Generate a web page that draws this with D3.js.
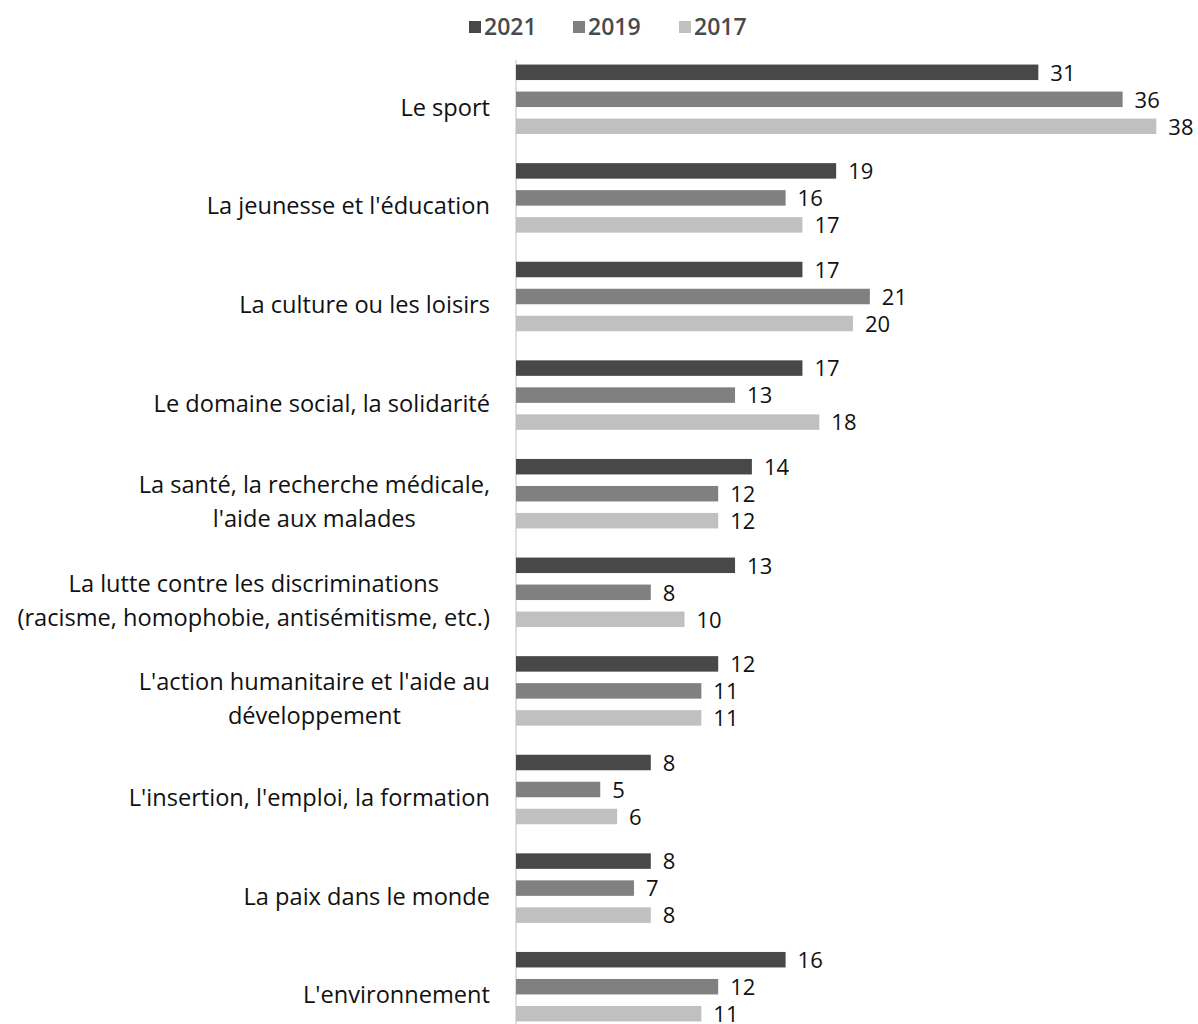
<!DOCTYPE html>
<html>
<head>
<meta charset="utf-8">
<script src="https://cdn.jsdelivr.net/npm/d3@7"></script>
<style>
  body { margin: 0; background: #fff; }
  text { font-family: "Open Sans", sans-serif; }
</style>
</head>
<body>
<script>
// data
let categories = [
    ["Le sport"],
    ["La jeunesse et l'éducation"],
    ["La culture ou les loisirs"],
    ["Le domaine social, la solidarité"],
    ["La santé, la recherche médicale,", "l'aide aux malades"],
    ["La lutte contre les discriminations", "(racisme, homophobie, antisémitisme, etc.)"],
    ["L'action humanitaire et l'aide au", "développement"],
    ["L'insertion, l'emploi, la formation"],
    ["La paix dans le monde"],
    ["L'environnement"]
]
let years = ["2021", "2019", "2017"]
let values2021 = [31, 19, 17, 17, 14, 13, 12, 8, 8, 16]
let values2019 = [36, 16, 21, 13, 12, 8, 11, 5, 7, 12]
let values2017 = [38, 17, 20, 18, 12, 10, 11, 6, 8, 11]
let colors = ["#484848", "#808080", "#c0c0c0"]

let series = [values2021, values2019, values2017]

let svgWidth = 1198
let svgHeight = 1024

let svg = d3.select("body")
    .append("svg")
    .attr("width", svgWidth)
    .attr("height", svgHeight)

let catIdx = categories.map((c, i) => i)

let y = d3.scaleBand()
    .domain(catIdx)
    .range([50, 1036])

let x = d3.scaleLinear()
    .domain([0, 40])
    .range([516, 1190])

// bars inside one group: step ~27px, bar ~15.5px
let yInner = d3.scaleBand()
    .domain(years)
    .range([y.bandwidth() / 2 - 34.75, y.bandwidth() / 2 + 34.75])
    .paddingInner(0.426)

// axis line
svg.append("line")
    .attr("x1", x(0)).attr("x2", x(0))
    .attr("y1", 60).attr("y2", 1024)
    .attr("stroke", "#d4d4d4")
    .attr("stroke-width", 1.5)

let groups = svg.append("g")
    .selectAll("g")
    .data(catIdx)
    .enter()
    .append("g")
    .attr("transform", i => `translate(0,${y(i)})`)

years.forEach((yr, s) => {
    groups.append("rect")
        .attr("x", x(0))
        .attr("y", yInner(yr))
        .attr("width", i => x(series[s][i]) - x(0))
        .attr("height", yInner.bandwidth())
        .attr("fill", colors[s])

    groups.append("text")
        .attr("x", i => x(series[s][i]) + 12)
        .attr("y", yInner(yr) + yInner.bandwidth() / 2)
        .attr("dy", "0.38em")
        .attr("font-size", 22)
        .attr("fill", "#111")
        .text(i => series[s][i])
})

// category labels: lines centred on each other, block right-aligned
groups.each(function (i) {
    let g = d3.select(this)
    let lines = categories[i]
    let lh = 34
    let cy = y.bandwidth() / 2 + 8
    let t = g.append("text")
        .attr("font-size", 23.6)
        .attr("fill", "#111")
        .attr("text-anchor", "middle")
    lines.forEach((l, k) => {
        t.append("tspan")
            .attr("y", cy + (k - (lines.length - 1) / 2) * lh)
            .attr("dy", "0.36em")
            .text(l)
    })
    let maxW = d3.max(t.selectAll("tspan").nodes(), n => n.getComputedTextLength())
    t.selectAll("tspan").attr("x", 490 - maxW / 2)
})

// legend
let legendX = [469, 573, 679]
let legend = svg.append("g")
years.forEach((yr, s) => {
    legend.append("rect")
        .attr("x", legendX[s])
        .attr("y", 21)
        .attr("width", 12)
        .attr("height", 12)
        .attr("fill", colors[s])
    legend.append("text")
        .attr("x", legendX[s] + 15)
        .attr("y", 27)
        .attr("dy", "0.36em")
        .attr("font-size", 23)
        .attr("font-weight", 600)
        .attr("fill", "#4a4a4a")
        .text(yr)
})
</script>
</body>
</html>
